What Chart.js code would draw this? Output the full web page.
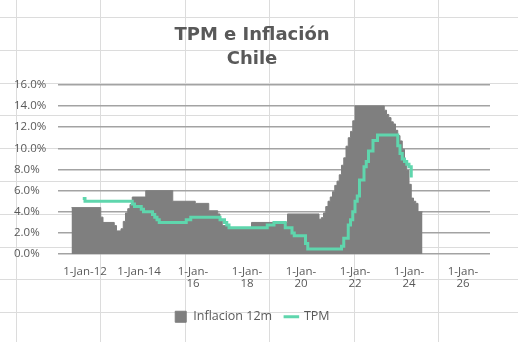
<!DOCTYPE html>
<html>
<head>
<meta charset="utf-8">
<script src="https://cdn.jsdelivr.net/npm/chart.js@4.4.1/dist/chart.umd.min.js"></script>
<style>
  html, body { margin: 0; padding: 0; background: #fff; }
  #chart { display: block; }
</style>
</head>
<body>
<canvas id="chart" width="518" height="342"></canvas>
<script>
// datos
const inflMonths = ['2011-07','2012-08','2012-09','2013-02','2013-03','2013-05','2013-06','2013-07','2013-08','2013-09','2013-10','2014-04','2015-04','2016-02','2016-08','2016-12','2017-01','2017-02','2017-05','2018-03','2019-07','2020-09','2020-10','2020-11','2020-12','2021-01','2021-02','2021-03','2021-04','2021-05','2021-06','2021-07','2021-08','2021-09','2021-10','2021-11','2021-12','2022-01','2023-02','2023-03','2023-04','2023-05','2023-06','2023-07','2023-08','2023-09','2023-10','2023-11','2023-12','2024-01','2024-02','2024-03','2024-04','2024-05','2024-07']
const inflValues = [4.4,3.5,3.0,2.7,2.2,2.4,3.1,3.9,4.3,4.7,5.4,6.0,5.0,4.8,4.1,3.8,3.3,2.7,2.5,3.0,3.8,3.3,3.45,3.9,4.5,5.0,5.4,5.9,6.5,6.9,7.5,8.4,9.1,10.2,11.0,11.6,12.6,14.0,13.6,13.2,12.9,12.5,12.3,11.7,11.2,10.7,9.9,8.7,7.9,6.6,5.3,5.0,4.8,4.0,4.0]

const tpmMonths = ['2011-12','2012-01','2013-10','2013-11','2014-02','2014-03','2014-07','2014-08','2014-09','2014-10','2015-10','2015-12','2017-01','2017-03','2017-04','2017-05','2018-10','2019-01','2019-06','2019-09','2019-10','2020-03','2020-04','2021-07','2021-08','2021-10','2021-11','2021-12','2022-01','2022-02','2022-03','2022-05','2022-06','2022-07','2022-09','2022-11','2023-08','2023-09','2023-10','2023-11','2023-12','2024-01','2024-02']
const tpmValues = [5.25,5.0,4.75,4.5,4.25,4.0,3.75,3.5,3.25,3.0,3.25,3.5,3.25,3.0,2.75,2.5,2.75,3.0,2.5,2.0,1.75,1.0,0.5,0.75,1.5,2.75,3.25,4.0,5.0,5.5,7.0,8.25,8.75,9.75,10.75,11.25,10.25,9.5,9.0,8.75,8.5,8.25,7.25]

const tickYears = [2012,2014,2016,2018,2020,2022,2024,2026]
const yTicks = [0,2,4,6,8,10,12,14,16]

const gris = '#595959'
const fuente = 'Open Sans'

// mes 'YYYY-MM' -> año decimal
const toYear = s => {
  const [y, m] = s.split('-').map(Number)
  return y + (m - 1) / 12
}
const toPoints = (months, values) => months.map((m, i) => ({ x: toYear(m), y: values[i] }))

// lineas de la hoja de calculo detras del grafico
const hojaPlugin = {
  id: 'hoja',
  beforeDraw(chart) {
    const ctx = chart.ctx
    ctx.save()
    ctx.strokeStyle = '#dcdcdc'
    ctx.lineWidth = 1
    for (let x = 16; x < chart.width; x += 84.4) {
      ctx.beginPath()
      ctx.moveTo(Math.round(x) + 0.5, 0)
      ctx.lineTo(Math.round(x) + 0.5, chart.height)
      ctx.stroke()
    }
    for (let y = 17; y < chart.height; y += 32.8) {
      ctx.beginPath()
      ctx.moveTo(0, Math.round(y) + 0.5)
      ctx.lineTo(chart.width, Math.round(y) + 0.5)
      ctx.stroke()
    }
    ctx.restore()
  }
}

const ctx = document.getElementById('chart').getContext('2d')

new Chart(ctx, {
  type: 'line',
  data: {
    datasets: [
      {
        label: 'Inflacion 12m',
        data: toPoints(inflMonths, inflValues),
        stepped: true,
        fill: 'origin',
        backgroundColor: '#7f7f7f',
        borderColor: '#7f7f7f',
        borderWidth: 1,
        pointRadius: 0,
        pointStyle: 'rect',
        order: 1
      },
      {
        label: 'TPM',
        data: toPoints(tpmMonths, tpmValues),
        stepped: true,
        fill: false,
        borderColor: '#5fd6ad',
        backgroundColor: '#5fd6ad',
        borderWidth: 3,
        pointRadius: 0,
        pointStyle: 'line',
        order: 0
      }
    ]
  },
  options: {
    responsive: false,
    animation: false,
    layout: { padding: { left: 14, right: 28, top: 18, bottom: 9 } },
    scales: {
      x: {
        type: 'linear',
        min: 2011,
        max: 2027,
        afterBuildTicks: scale => { scale.ticks = tickYears.map(v => ({ value: v })) },
        afterFit: scale => { scale.height += 4 },
        grid: { display: false },
        border: { display: false },
        ticks: {
          autoSkip: false,
          maxRotation: 0,
          padding: 3,
          color: gris,
          font: { family: fuente, size: 11.5, lineHeight: 1.1 },
          callback: v => {
            const yy = String(v).slice(-2)
            return v <= 2014 ? '1-Jan-' + yy : ['1-Jan-', yy]
          }
        }
      },
      y: {
        min: 0,
        max: 16,
        afterBuildTicks: scale => { scale.ticks = yTicks.map(v => ({ value: v })) },
        afterFit: scale => { scale.width = 44 },
        grid: { color: '#a3a3a3', lineWidth: 1.5, drawTicks: false },
        border: { display: false },
        ticks: {
          crossAlign: 'far',
          padding: 8,
          color: gris,
          font: { family: fuente, size: 11.5 },
          callback: v => v.toFixed(1) + '%'
        }
      }
    },
    plugins: {
      title: {
        display: true,
        text: ['TPM e Inflación', 'Chile'],
        color: gris,
        font: { family: 'DejaVu Sans', size: 18, weight: 'bold', lineHeight: 1.3 },
        padding: { top: 6, bottom: 14 }
      },
      legend: {
        position: 'bottom',
        labels: {
          usePointStyle: true,
          boxHeight: 11,
          color: gris,
          font: { family: fuente, size: 12.5 },
          padding: 13,
          sort: (a, b) => a.datasetIndex - b.datasetIndex
        }
      },
      tooltip: { enabled: false }
    }
  },
  plugins: [hojaPlugin]
})
</script>
</body>
</html>
